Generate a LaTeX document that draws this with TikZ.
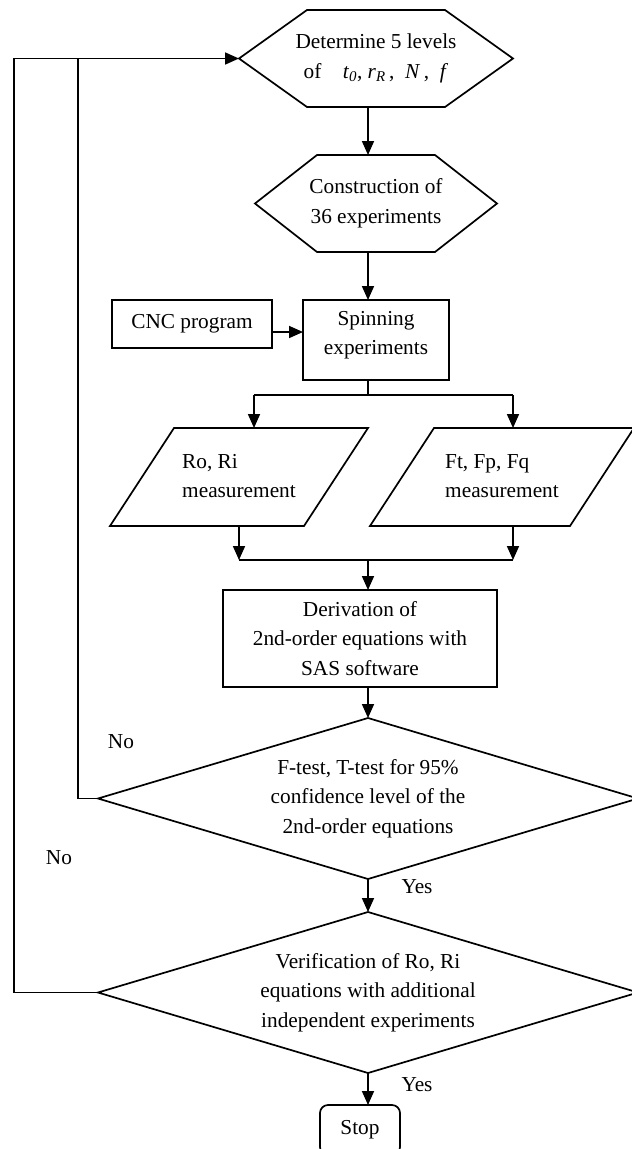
\documentclass[tikz,border=0pt]{standalone}
\usepackage{fontspec}
\setmainfont{Liberation Serif}
\usetikzlibrary{arrows.meta,calc}
\begin{document}
\begin{tikzpicture}[x=1pt,y=-1pt,
  line width=1.7pt,
  every node/.style={inner sep=0pt, outer sep=0pt, font=\fontsize{21.3}{29.5}\selectfont, align=center},
  arr/.style={-{Triangle[length=14pt,width=12pt]}},
  shapeline/.style={line join=miter}]
\useasboundingbox (0,0) rectangle (632,1149);
\clip (0,0) rectangle (632,1149);

% nodes
\node[minimum width=274pt, minimum height=97pt] (h1) at (376,58.5)
  {Determine 5 levels\\of\quad \textit{t}\textsubscript{\textit{0}}, \textit{r}\textsubscript{\textit{R}}\,,\ \ \textit{N}\,,\ \ \textit{f}};
\node[minimum width=242pt, minimum height=97pt] (h2) at (376,203.5)
  {Construction of\\36 experiments};
\node[draw, minimum width=146pt, minimum height=80pt] (spin) at (376,340)
  {Spinning\\experiments\\[-15pt]\mbox{}};
\node[draw, minimum width=160pt, minimum height=48pt] (cnc) at (192,324)
  {CNC program};
\node[minimum width=258pt, minimum height=98pt, align=left] (p1) at (239,477)
  {\mbox{}\\[-17pt]Ro, Ri\\measurement};
\node[minimum width=264pt, minimum height=98pt, align=left] (p2) at (502,477)
  {\mbox{}\\[-17pt]Ft, Fp, Fq\\measurement};
\node[draw, minimum width=274pt, minimum height=97pt] (der) at (360,638.5)
  {Derivation of\\2nd-order equations with\\SAS software};
\node[minimum width=540pt, minimum height=161pt] (d1) at (368,798.5)
  {F-test, T-test for 95\%\\confidence level of the\\2nd-order equations};
\node[minimum width=540pt, minimum height=161pt] (d2) at (368,992.5)
  {Verification of Ro, Ri\\equations with additional\\independent experiments};
\node[draw, rounded corners=8pt, minimum width=80pt, minimum height=50pt] (stop) at (360,1130)
  {Stop};

\node (no1) at (121,742) {No};
\node (no2) at (59,858) {No};
\node (yes1) at (417,887) {Yes};
\node (yes2) at (417,1085) {Yes};

% shape outlines
\draw[shapeline] (h1.west) -- ([xshift=68pt]h1.north west) -- ([xshift=-68pt]h1.north east) -- (h1.east) -- ([xshift=-68pt]h1.south east) -- ([xshift=68pt]h1.south west) -- cycle;
\draw[shapeline] (h2.west) -- ([xshift=62pt]h2.north west) -- ([xshift=-62pt]h2.north east) -- (h2.east) -- ([xshift=-62pt]h2.south east) -- ([xshift=62pt]h2.south west) -- cycle;
\draw[shapeline] ([xshift=64pt]p1.north west) -- (p1.north east) -- ([xshift=-64pt]p1.south east) -- (p1.south west) -- cycle;
\draw[shapeline] ([xshift=64pt]p2.north west) -- (p2.north east) -- ([xshift=-64pt]p2.south east) -- (p2.south west) -- cycle;
\draw[shapeline] (d1.west) -- (d1.north) -- (d1.east) -- (d1.south) -- cycle;
\draw[shapeline] (d2.west) -- (d2.north) -- (d2.east) -- (d2.south) -- cycle;

% connectors
\coordinate (sp) at (368,0);
\coordinate (sl) at (254,395);
\coordinate (sr) at (513,395);
\coordinate (ml) at (239,560);
\coordinate (mr) at (513,560);
\coordinate (mc) at (368,560);
\coordinate (lo) at (14,0);
\coordinate (li) at (78,0);

\draw[arr] (h1.south -| sp) -- (h2.north -| sp);
\draw[arr] (h2.south -| sp) -- (spin.north -| sp);
\draw[arr] ([yshift=-8pt]cnc.east) -- ([yshift=-8pt]cnc.east -| spin.west);
\draw (spin.south -| sp) -- (sp |- sl);
\draw (sl) -- (sr);
\draw[arr] (sl) -- (sl |- p1.north);
\draw[arr] (sr) -- (sr |- p2.north);
\draw[arr] (ml |- p1.south) -- (ml);
\draw[arr] (mr |- p2.south) -- (mr);
\draw (ml) -- (mr);
\draw[arr] (mc) -- (mc |- der.north);
\draw[arr] (der.south -| sp) -- (d1.north);
\draw[arr] (d1.south) -- (d2.north);
\draw[arr] (d2.south) -- (d2.south |- stop.north);
\draw[arr, line join=miter] (d2.west) -- (d2.west -| lo) -- (h1.west -| lo) -- (h1.west);
\draw[line join=miter] (d1.west) -- (d1.west -| li) -- (h1.west -| li);
\end{tikzpicture}
\end{document}
